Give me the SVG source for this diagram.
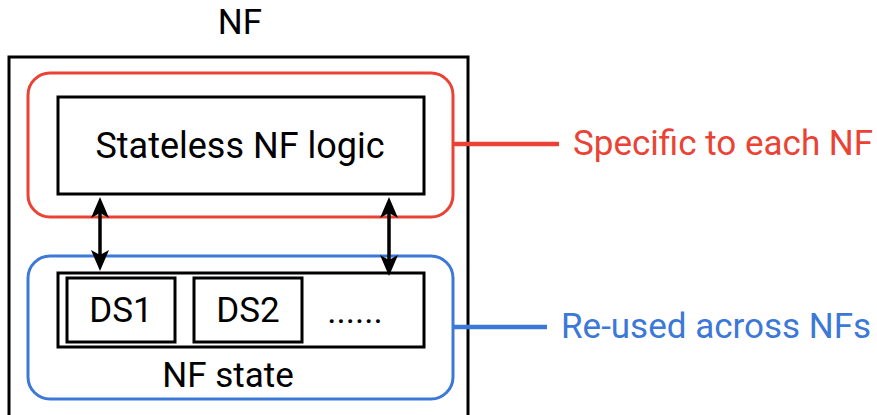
<svg xmlns="http://www.w3.org/2000/svg" width="877" height="415" viewBox="0 0 877 415">
<style>
text{font-family:Roboto,"Liberation Sans",sans-serif;font-size:35px;fill:#000}
.box{fill:none;stroke:#000;stroke-width:3}
.red{fill:none;stroke:#EA4335;stroke-width:3}
.blue{fill:none;stroke:#3C78D8;stroke-width:3}
.conn{stroke:#000;stroke-width:3.5;fill:none}
.head{fill:#000}
</style>
<text x="240" y="34" text-anchor="middle">NF</text>
<g id="nf">
<rect x="9" y="57" width="459" height="360" class="box"/>
</g>
<g id="specific">
<rect x="28" y="73" width="425" height="144" rx="22" class="red"/>
</g>
<g id="reused">
<rect x="28" y="256" width="425" height="143" rx="22" class="blue"/>
</g>
<g id="logic">
<rect x="58" y="97" width="366" height="97" class="box"/>
<text x="240" y="158" text-anchor="middle" style="font-size:36px">Stateless NF logic</text>
</g>
<g id="state">
<rect x="58" y="273" width="366" height="74" class="box"/>
<text x="228" y="387" text-anchor="middle">NF state</text>
</g>
<g id="ds1">
<rect x="67" y="278" width="108" height="64" class="box"/>
<text x="121" y="322" text-anchor="middle">DS1</text>
</g>
<g id="ds2">
<rect x="194" y="278" width="108" height="64" class="box"/>
<text x="248" y="322" text-anchor="middle">DS2</text>
</g>
<text x="355" y="323" text-anchor="middle">......</text>
<g id="labels">
<text x="573" y="155" style="fill:#EA4335">Specific to each NF</text>
<text x="561" y="338" style="fill:#3C78D8">Re-used across NFs</text>
</g>
<g id="connectors">
<line x1="100" y1="210" x2="100" y2="258" class="conn"/>
<polygon class="head" points="100,197 109,218 100,213 91,218"/>
<polygon class="head" points="100,271 109,250 100,255 91,250"/>
<line x1="389" y1="210" x2="389" y2="262" class="conn"/>
<polygon class="head" points="389,197 398,218 389,213 380,218"/>
<polygon class="head" points="389,276 398,255 389,260 380,255"/>
<line x1="453" y1="144" x2="559" y2="144" stroke="#EA4335" stroke-width="4.5"/>
<line x1="453" y1="327" x2="547" y2="327" stroke="#3C78D8" stroke-width="4.5"/>
</g>
</svg>
